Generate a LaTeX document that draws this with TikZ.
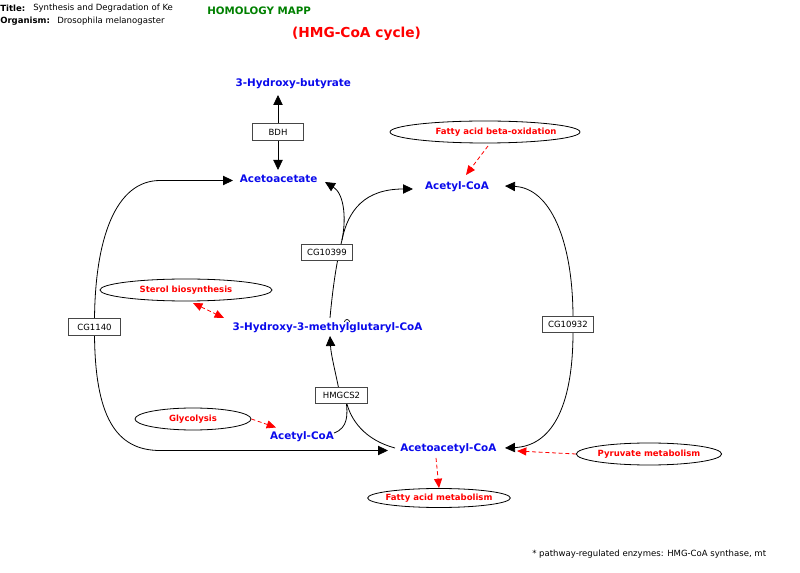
\documentclass[tikz,border=0pt]{standalone}
\usepackage{fontspec}
\setmainfont{DejaVu Sans}
\usetikzlibrary{arrows.meta,shapes.geometric}
\definecolor{metblue}{RGB}{10,10,235}
\definecolor{mappgreen}{RGB}{0,128,0}
\definecolor{linkred}{RGB}{255,0,0}
\definecolor{boxgray}{RGB}{70,70,70}
\begin{document}
\begin{tikzpicture}[x=0.75pt,y=-0.75pt,
  met/.style={text=metblue,font=\bfseries\fontsize{7.8}{9}\selectfont,inner sep=0pt},
  gene/.style={draw=boxgray,line width=0.6pt,fill=white,font=\fontsize{6.4}{7.5}\selectfont,minimum width=38.5pt,minimum height=12.5pt,inner sep=0pt},
  pathw/.style={ellipse,draw=black,line width=0.6pt,fill=white,text=linkred,font=\bfseries\fontsize{6.4}{7.5}\selectfont,inner sep=0pt,minimum height=16.5pt},
  info/.style={font=\fontsize{6.4}{7.5}\selectfont,inner sep=0pt,anchor=west},
  infob/.style={info,font=\bfseries\fontsize{6.4}{7.5}\selectfont},
  conv/.style={line width=0.6pt,-{Triangle[length=7.5pt,width=7pt]}},
  link/.style={linkred,line width=0.6pt,dash pattern=on 3pt off 2pt,-{Triangle[length=7pt,width=6pt]}},
  bilink/.style={link,{Triangle[length=7pt,width=6pt]}-{Triangle[length=7pt,width=6pt]}}
]
\useasboundingbox (0,0) rectangle (800,573);

% header
\node[infob] (tlab) at (0,8) {Title:};
\node[info] (ttxt) at (33,8) {Synthesis and Degradation of Ke};
\node[infob] (olab) at (0,21) {Organism:};
\node[info] (otxt) at (57,21) {Drosophila melanogaster};
\node[anchor=west,inner sep=0pt,text=mappgreen,font=\bfseries\fontsize{7.7}{9}\selectfont] (mapp) at (207,11) {HOMOLOGY MAPP};
\node[inner sep=0pt,text=linkred,font=\bfseries\fontsize{10.3}{12}\selectfont] (cyc) at (356.5,34) {(HMG-CoA cycle)};
\node[info] (foot) at (532,554) {* pathway-regulated enzymes: HMG-CoA synthase, mt};

% metabolites
\node[met] (hb) at (293.3,84) {3-Hydroxy-butyrate};
\node[met] (acac) at (278.7,178.5) {Acetoacetate};
\node[met] (accoaA) at (457,187) {Acetyl-CoA};
\node[met] (hmg) at (327.5,327.3) {3-Hydroxy-3-methylglutaryl-CoA};
\node[met] (accoaB) at (302,436.5) {Acetyl-CoA};
\node[met] (acacoa) at (448.3,448.3) {Acetoacetyl-CoA};

% arrow end points
\coordinate (hbIn) at (278,95);
\coordinate (acacIn) at (278,170);
\coordinate (acacL) at (233,180.5);
\coordinate (acacR) at (325,182);
\coordinate (accoaAL) at (413,189);
\coordinate (accoaAR) at (505,186);
\coordinate (hmgIn) at (330,336);
\coordinate (hmgOut) at (330,318);
\coordinate (fork) at (342,240);
\coordinate (accoaBOut) at (334,433);
\coordinate (acacoaL) at (388,450.5);
\coordinate (acacoaLo) at (395,448);
\coordinate (acacoaR) at (505,448);
\coordinate (acacoaFrom) at (517,451);
\coordinate (acacoaOut) at (436,458);
\coordinate (hmgLink) at (224,318);
\coordinate (accoaBLink) at (276,427.5);
\coordinate (accoaALink) at (466,175);

% reaction connectors (drawn before genes)
\draw[line width=0.6pt] (hmgOut) .. controls (333,285) and (337,260) .. (fork);
\draw[conv] (fork) .. controls (347,215) and (343,193) .. (acacR);
\draw[conv] (fork) .. controls (348,210) and (365,189) .. (accoaAL);

\draw[line width=0.6pt] (accoaBOut) .. controls (348,428) and (348,415) .. (346,400);
\draw[line width=0.6pt] (acacoaLo) .. controls (365,440) and (350,420) .. (346,400);
\draw[conv] (339,390) .. controls (335,370) and (331,355) .. (hmgIn);

\draw[conv] (94.5,320) .. controls (95,240) and (115,180.5) .. (160,180.5) -- (acacL);
\draw[conv] (94.5,334) .. controls (95,415) and (115,450.5) .. (160,450.5) -- (acacoaL);

\draw[conv] (573,318) .. controls (573,240) and (550,188) .. (accoaAR);
\draw[conv] (573,332) .. controls (573,410) and (550,446) .. (acacoaR);

% genes
\node[gene] (bdh) at (278,132) {BDH};
\node[gene] (cg10399) at (327,252.5) {CG10399};
\node[gene] (hmgcs) at (341.5,395.5) {HMGCS2};
\node[gene] (cg1140) at (94.5,327) {CG1140};
\node[gene] (cg10932) at (568,324.5) {CG10932};

\draw[conv] (bdh.north) -- (hbIn);
\draw[conv] (bdh.south) -- (acacIn);

% linked pathways
\node[pathw,minimum width=142.5pt,inner xsep=-4pt] (fabo) at (485,132) {\hspace*{16.5pt}Fatty acid beta-oxidation};
\node[pathw,minimum width=129pt] (sterol) at (186,290) {Sterol biosynthesis};
\node[pathw,minimum width=87pt] (glyc) at (193,419) {Glycolysis};
\node[pathw,minimum width=108pt] (pyr) at (649,454) {Pyruvate metabolism};
\node[pathw,minimum width=107pt,minimum height=14.25pt,inner xsep=-3pt] (fam) at (439,498) {Fatty acid metabolism};

\draw[link] (488,146) -- (accoaALink);
\draw[bilink] (193,303) -- (hmgLink);
\draw[link] (glyc.east) -- (accoaBLink);
\draw[link] (pyr.west) -- (acacoaFrom);
\draw[link] (acacoaOut) -- (fam.north);

% small mark
\draw[line width=0.5pt] (344.5,322) arc[start angle=180,end angle=0,radius=1.9pt];
\end{tikzpicture}
\end{document}
